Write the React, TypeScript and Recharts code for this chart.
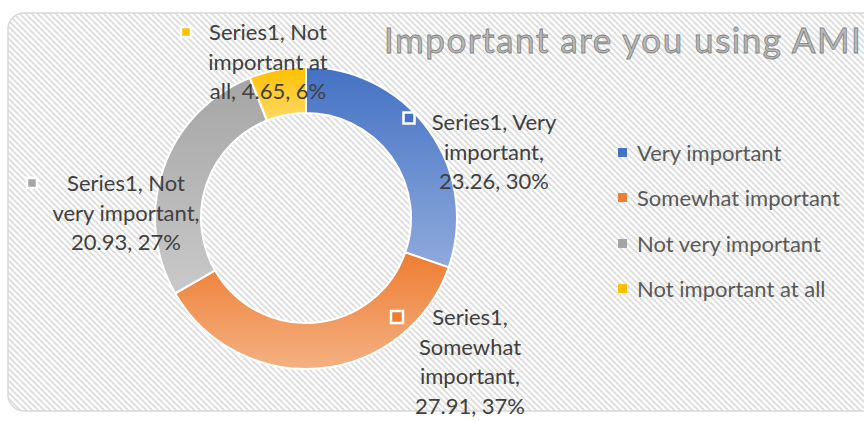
import { PieChart, Pie, Cell, Legend } from 'recharts';

const categories = ['Very important', 'Somewhat important', 'Not very important', 'Not important at all'];
const values = [23.26, 27.91, 20.93, 4.65];
const percentLabels = ['30%', '37%', '27%', '6%'];
const seriesName = 'Series1';
const title = 'Important are you using AMI';

// label text lines as Excel wrapped them
const labelLines = [
  [`${seriesName}, Very`, 'important,', `${values[0]}, ${percentLabels[0]}`],
  [`${seriesName},`, 'Somewhat', 'important,', `${values[1]}, ${percentLabels[1]}`],
  [`${seriesName}, Not`, 'very important,', `${values[2]}, ${percentLabels[2]}`],
  [`${seriesName}, Not`, 'important at', `all, ${values[3]}, ${percentLabels[3]}`],
];

const COLORS = [
  { top: '#4472C4', bottom: '#8FAADC' },
  { top: '#ED7D31', bottom: '#F4B183' },
  { top: '#A5A5A5', bottom: '#C9C9C9' },
  { top: '#FFC000', bottom: '#FFD966' },
];

// label placement relative to the pie centre (marker + first text baseline)
const LABEL_POS = [
  { mx: 103, my: -100, tx: 188, ty: -88, s: 11 },
  { mx: 91, my: 99, tx: 164, ty: 107, s: 12 },
  { mx: -274, my: -35, tx: -180, ty: -27, s: 10 },
  { mx: -120, my: -186, tx: -38, ty: -178, s: 10 },
];

const FONT = 'Lato, "Open Sans", sans-serif';
const W = 864;
const H = 421;

const data = categories.map((name, i) => ({ name, value: values[i] }));

const renderLabel = (props: any) => {
  const { cx, cy, index } = props;
  const p = LABEL_POS[index];
  const c = COLORS[index];
  return (
    <g key={`lbl-${index}`}>
      <rect x={cx + p.mx - p.s / 2} y={cy + p.my - p.s / 2} width={p.s} height={p.s} fill={c.top} stroke="#fff" strokeWidth={2.5} />
      <text x={cx + p.tx} y={cy + p.ty} textAnchor="middle" fill="#404040" fontSize={22} fontFamily={FONT}>
        {labelLines[index].map((line, j) => (
          <tspan key={j} x={cx + p.tx} dy={j === 0 ? 0 : 29.5}>{line}</tspan>
        ))}
      </text>
    </g>
  );
};

const renderLegend = () => (
  <div style={{ fontFamily: FONT, fontSize: 22, color: '#595959' }}>
    {categories.map((name, i) => (
      <div key={name} style={{ display: 'flex', alignItems: 'center', height: 45.3 }}>
        <span style={{ width: 9, height: 9, background: COLORS[i].top, marginRight: 10, display: 'inline-block' }} />
        <span>{name}</span>
      </div>
    ))}
  </div>
);

export default function App() {
  return (
    <div style={{ position: 'absolute', left: 0, top: 0, width: W, height: H, overflow: 'hidden', background: '#fff' }}>
      <svg width={W} height={H} style={{ position: 'absolute', left: 0, top: 0 }}>
        <defs>
          <pattern id="hatch" patternUnits="userSpaceOnUse" width={6} height={6}>
            <path d="M-1,-1 L7,7 M-1,5 L1,7 M5,-1 L7,1" stroke="#dcdcdc" strokeWidth={1.8} />
          </pattern>
        </defs>
        <rect x={8} y={13} width={W + 20} height={398} rx={16} fill="url(#hatch)" stroke="#d9d9d9" strokeWidth={1.5} />
        <text x={384} y={53} fontFamily={FONT} fontSize={35} letterSpacing={1.5} fill="#b8b8b8" stroke="#7f7f7f" strokeWidth={0.8}>
          {title}
        </text>
      </svg>
      <div style={{ position: 'absolute', left: 0, top: 0 }}>
        <PieChart width={W} height={H} margin={{ top: 0, right: 0, bottom: 0, left: 0 }}>
          <defs>
            {COLORS.map((c, i) => (
              <linearGradient key={i} id={`grad${i}`} x1="0" y1="0" x2="0" y2="1">
                <stop offset="0%" stopColor={c.top} />
                <stop offset="100%" stopColor={c.bottom} />
              </linearGradient>
            ))}
          </defs>
          <Pie
            data={data}
            dataKey="value"
            nameKey="name"
            cx={306}
            cy={218}
            innerRadius={105}
            outerRadius={151}
            startAngle={90}
            endAngle={-270}
            stroke="#fff"
            strokeWidth={2}
            label={renderLabel}
            labelLine={false}
            isAnimationActive={false}
          >
            {data.map((_, i) => (
              <Cell key={i} fill={`url(#grad${i})`} />
            ))}
          </Pie>
          <Legend
            layout="vertical"
            align="center"
            verticalAlign="middle"
            content={renderLegend}
            wrapperStyle={{ left: 618, top: 130, width: 240 }}
          />
        </PieChart>
      </div>
    </div>
  );
}
